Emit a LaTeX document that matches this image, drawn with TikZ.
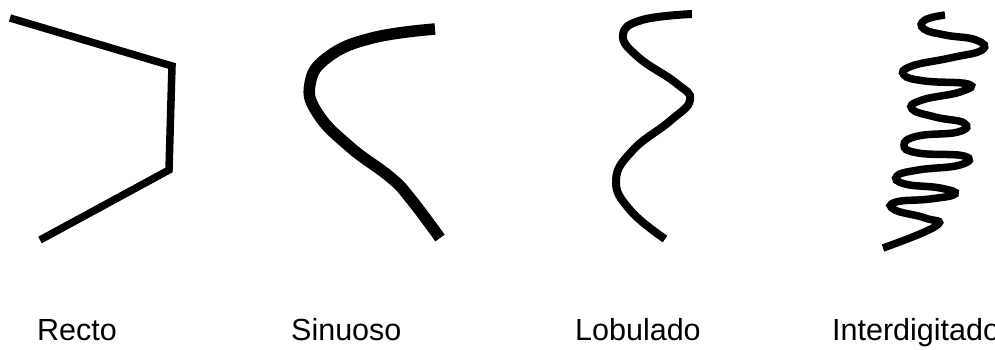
\documentclass[tikz,border=0pt]{standalone}
\usepackage{fontspec}
\setmainfont{Liberation Sans}
\newcommand{\pEtiq}[1]{\fontsize{30.5}{36}\selectfont #1}

\begin{document}
\begin{tikzpicture}[x=1pt,y=-1pt]
\tikzset{
  etiqueta/.style={anchor=base west, inner sep=0pt},
  borde/.style={line width=#1, black}
}
\useasboundingbox (0,0) rectangle (995,349);
% recto
\draw[borde=7.5pt, line join=miter] (10,18) -- (172,66) -- (169,170) -- (40,240);
% sinuoso
\draw[borde=11.5pt] plot[smooth, tension=0.75] coordinates {(435,29) (372,38) (328,57) (310,84) (318,114) (350,147) (390,177) (410,198) (440,238)};
% lobulado
\draw[borde=8pt] plot[smooth, tension=0.75] coordinates {(692,14) (642,20) (623,35) (638,57) (676,83) (690,100) (670,121) (633,150) (616,180) (630,210) (665,239)};
% interdigitado
\draw[borde=7.5pt] plot[smooth, tension=0.8] coordinates {(945,15) (925,20) (924,29) (945,35) (976,40) (982,50) (950,58) (912,66) (904,75) (925,81) (968,84) (960,92) (922,100) (912,109) (935,117) (964,123) (958,132) (918,136) (904,145) (918,153) (964,156) (960,165) (918,170) (897,176) (905,184) (940,188) (955,194) (930,199) (896,202) (895,210) (925,218) (936,226) (883,248)};
% textos
\node[etiqueta] (recto) at (37,340) {\pEtiq{Recto}};
\node[etiqueta] (sinuoso) at (291,340) {\pEtiq{Sinuoso}};
\node[etiqueta] (lobulado) at (575,340) {\pEtiq{Lobulado}};
\node[etiqueta] (interdigitado) at (832,340) {\pEtiq{Interdigitado}};
\end{tikzpicture}
\end{document}
